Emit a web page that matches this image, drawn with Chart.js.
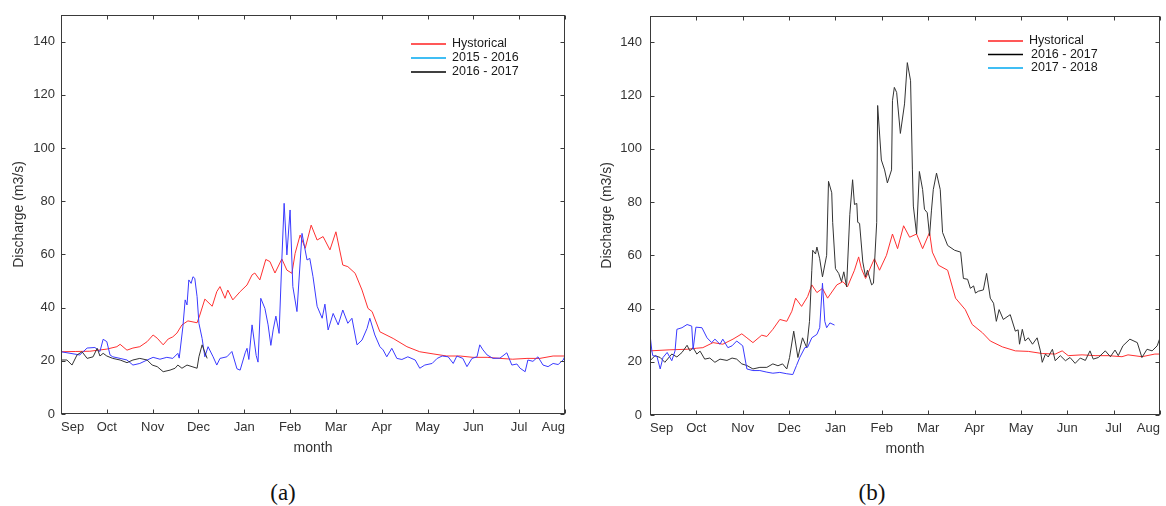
<!DOCTYPE html>
<html>
<head>
<meta charset="utf-8">
<script src="https://cdn.jsdelivr.net/npm/chart.js@4.4.1/dist/chart.umd.min.js"></script>
<style>
  html, body { margin:0; padding:0; background:#fff; }
  #wrap { position:relative; width:1166px; height:506px; overflow:hidden; }
  canvas { position:absolute; top:0; }
  #ca { left:0; }
  #cb { left:583px; }
  .cap { position:absolute; width:100px; text-align:center; font-family:"Liberation Serif", serif; font-size:23px; line-height:26px; color:#111; top:480px; }
</style>
</head>
<body>
<div id="wrap">
  <canvas id="ca" width="583" height="470"></canvas>
  <canvas id="cb" width="583" height="470"></canvas>
  <div class="cap" style="left:233px">(a)</div>
  <div class="cap" style="left:822px">(b)</div>
</div>
<script>
// ---------- tick labels ----------
const months = ['Sep','Oct','Nov','Dec','Jan','Feb','Mar','Apr','May','Jun','Jul','Aug'];
const yTicks = [0,20,40,60,80,100,120,140];

// ---------- legend ----------
const legendA = ['Hystorical','2015 - 2016','2016 - 2017'];
const legendAColors = ['#ff2020','#00a8f0','#000000'];
const legendB = ['Hystorical','2016 - 2017','2017 - 2018'];
const legendBColors = ['#ff2020','#000000','#00a8f0'];

// ---------- chart (a) series : [month position, discharge] ----------
const aHistorical = [
[0.00,23.4],[0.31,23.5],[0.63,23.6],[1.00,24.4],[1.22,25.3],[1.29,26.2],[1.44,24.0],[1.57,24.8],
[1.72,25.3],[1.88,27.2],[2.01,29.7],[2.10,28.5],[2.23,26.0],[2.34,28.2],[2.44,29.0],[2.53,30.4],
[2.64,33.5],[2.77,35.0],[2.97,34.3],[3.03,37.2],[3.14,43.2],[3.30,40.5],[3.40,46.0],[3.47,47.9],
[3.58,43.5],[3.64,46.6],[3.75,42.9],[3.91,46.0],[4.06,48.5],[4.17,52.3],[4.23,53.0],[4.34,50.4],
[4.47,58.1],[4.56,57.3],[4.67,53.0],[4.82,58.3],[4.93,54.1],[5.04,52.9],[5.11,60.4],[5.22,67.3],
[5.33,62.3],[5.46,71.0],[5.59,65.4],[5.72,66.7],[5.87,61.7],[6.00,68.5],[6.15,56.0],[6.26,55.4],
[6.42,52.9],[6.57,46.6],[6.70,39.7],[6.79,38.5],[6.96,30.9],[7.25,28.4],[7.55,25.3],[7.83,23.4],
[8.12,22.6],[8.42,21.8],[8.71,21.8],[8.99,21.3],[9.30,21.3],[9.58,20.9],[9.86,20.6],[10.17,20.9],
[10.45,20.9],[10.74,21.8],[11.00,21.8]
];
const a2015 = [
[0.00,23.4],[0.41,22.2],[0.57,24.8],[0.74,25.0],[0.85,23.5],[0.92,28.1],[1.00,27.2],[1.07,22.2],
[1.13,21.5],[1.29,20.9],[1.44,20.3],[1.57,18.4],[1.72,19.0],[1.88,20.3],[2.01,21.3],[2.16,20.6],
[2.31,21.3],[2.44,20.9],[2.55,22.8],[2.58,21.0],[2.66,32.8],[2.71,42.9],[2.75,41.0],[2.79,50.4],
[2.84,49.1],[2.88,51.6],[2.92,51.0],[2.97,44.1],[3.01,34.1],[3.08,28.4],[3.14,21.5],[3.21,25.3],
[3.32,21.5],[3.40,18.4],[3.47,20.9],[3.62,21.5],[3.73,23.5],[3.84,17.0],[3.91,16.5],[4.02,23.0],
[4.06,24.7],[4.10,20.5],[4.17,33.5],[4.26,22.0],[4.30,19.5],[4.36,43.5],[4.45,39.7],[4.52,33.5],
[4.58,25.8],[4.63,31.6],[4.69,36.8],[4.76,30.3],[4.82,57.9],[4.87,79.2],[4.93,59.8],[5.00,76.7],
[5.06,47.9],[5.15,38.5],[5.26,67.9],[5.37,57.9],[5.43,58.5],[5.50,51.6],[5.59,40.5],[5.70,36.0],
[5.76,41.3],[5.83,31.6],[5.94,37.8],[6.05,33.5],[6.15,39.1],[6.26,34.1],[6.35,36.0],[6.46,26.0],
[6.57,27.8],[6.68,32.2],[6.74,36.0],[6.85,29.7],[6.96,25.3],[7.03,24.1],[7.11,21.5],[7.22,24.7],
[7.33,20.9],[7.44,20.5],[7.57,21.5],[7.73,20.3],[7.83,17.2],[7.94,18.4],[8.10,19.0],[8.21,20.9],
[8.32,21.8],[8.45,21.5],[8.56,19.0],[8.64,21.8],[8.77,20.9],[8.86,17.8],[8.97,20.9],[9.08,21.5],
[9.14,26.0],[9.21,24.1],[9.30,22.2],[9.43,20.9],[9.58,21.0],[9.73,23.0],[9.84,18.4],[9.95,18.8],
[10.02,17.2],[10.13,15.9],[10.19,20.3],[10.30,19.8],[10.41,21.5],[10.52,18.4],[10.63,17.8],
[10.74,19.0],[10.85,18.6],[10.96,20.3],[11.00,21.8]
];
const a2016 = [
[0.00,20.3],[0.13,20.3],[0.24,18.4],[0.35,22.2],[0.46,23.4],[0.57,20.9],[0.70,21.5],[0.79,24.7],
[0.85,21.8],[0.92,22.8],[1.00,21.8],[1.13,20.9],[1.29,20.3],[1.44,19.3],[1.57,20.3],[1.72,20.9],
[1.88,20.3],[1.99,18.4],[2.10,17.8],[2.23,15.9],[2.38,16.5],[2.49,17.2],[2.55,18.4],[2.64,17.2],
[2.75,18.4],[2.86,17.8],[2.97,17.2],[3.01,21.5],[3.08,26.0],[3.12,24.1],[3.19,20.9]
];

// ---------- chart (b) series ----------
const bHistorical = [
[0.00,24.1],[0.43,24.5],[0.80,24.7],[1.01,25.1],[1.14,25.3],[1.36,27.2],[1.57,26.6],[1.79,28.5],
[1.98,30.5],[2.09,29.0],[2.22,27.2],[2.41,30.0],[2.52,29.5],[2.65,32.2],[2.80,35.9],[2.95,35.2],
[3.06,39.0],[3.14,43.9],[3.27,40.8],[3.40,44.5],[3.49,48.9],[3.60,46.0],[3.72,47.6],[3.83,43.9],
[4.03,48.9],[4.16,50.1],[4.26,48.2],[4.41,54.4],[4.50,59.4],[4.56,55.0],[4.65,51.3],[4.84,58.7],
[4.95,54.4],[5.10,60.0],[5.23,68.0],[5.34,62.5],[5.47,71.1],[5.60,66.8],[5.75,68.0],[5.88,62.5],
[6.03,68.6],[6.09,61.2],[6.22,56.3],[6.42,54.4],[6.59,43.9],[6.80,39.6],[6.95,34.0],[7.17,30.9],
[7.34,27.8],[7.60,25.6],[7.88,24.1],[8.16,23.9],[8.46,23.1],[8.74,22.9],[8.89,24.1],[9.02,22.3],
[9.32,22.6],[9.60,22.3],[9.88,22.3],[10.18,21.9],[10.31,22.6],[10.61,21.9],[10.89,22.9],[11.00,22.9]
];
const b2016 = [
[0.00,20.4],[0.11,22.3],[0.22,21.6],[0.32,19.8],[0.47,22.9],[0.58,21.8],[0.69,23.5],[0.80,26.2],
[0.86,24.1],[0.93,25.3],[1.01,22.9],[1.08,24.0],[1.18,21.0],[1.29,21.4],[1.40,19.8],[1.51,21.0],
[1.66,20.5],[1.77,21.4],[1.87,21.0],[1.98,19.2],[2.09,18.6],[2.22,17.3],[2.37,17.9],[2.52,17.9],
[2.65,19.2],[2.76,18.5],[2.86,19.2],[2.95,17.3],[3.01,21.6],[3.10,31.5],[3.19,21.6],[3.29,29.0],
[3.38,25.3],[3.44,35.2],[3.49,54.4],[3.51,61.9],[3.57,60.5],[3.60,63.1],[3.66,58.7],[3.72,51.9],
[3.81,60.0],[3.85,87.8],[3.92,83.5],[3.94,72.4],[4.00,55.0],[4.07,53.2],[4.13,50.1],[4.18,53.8],
[4.24,48.2],[4.31,75.4],[4.37,88.4],[4.41,79.1],[4.46,79.5],[4.48,72.4],[4.52,72.0],[4.59,57.5],
[4.65,51.9],[4.69,54.4],[4.78,48.9],[4.82,49.5],[4.89,72.4],[4.91,116.3],[4.99,95.8],[5.06,92.1],
[5.12,87.2],[5.21,92.1],[5.23,118.1],[5.27,123.1],[5.32,121.2],[5.40,105.8],[5.49,116.9],[5.55,132.4],
[5.62,125.6],[5.66,92.1],[5.68,78.5],[5.75,68.0],[5.81,91.5],[5.88,84.7],[5.92,77.3],[5.98,76.0],
[6.03,67.4],[6.07,76.7],[6.11,84.7],[6.18,90.9],[6.26,84.7],[6.31,68.6],[6.42,63.7],[6.57,61.9],
[6.70,61.2],[6.76,51.3],[6.85,51.0],[6.91,47.6],[6.98,48.5],[7.02,45.8],[7.08,46.5],[7.19,47.0],
[7.26,53.2],[7.34,43.9],[7.41,42.0],[7.47,35.2],[7.53,39.6],[7.62,35.9],[7.77,37.7],[7.88,31.5],
[7.94,32.0],[7.97,26.6],[8.03,32.2],[8.09,27.8],[8.16,29.0],[8.25,26.6],[8.35,29.0],[8.42,24.1],
[8.46,19.8],[8.53,22.9],[8.59,21.8],[8.68,24.7],[8.74,20.4],[8.85,22.3],[8.96,20.4],[9.06,21.6],
[9.17,19.4],[9.28,21.4],[9.39,20.5],[9.49,24.1],[9.56,21.0],[9.67,21.6],[9.82,24.1],[9.93,21.9],
[10.03,24.4],[10.10,22.3],[10.20,26.0],[10.35,28.5],[10.51,27.2],[10.61,21.6],[10.72,24.7],
[10.83,24.1],[10.94,26.0],[11.00,29.0]
];
const b2017 = [
[0.00,30.3],[0.04,24.1],[0.06,22.3],[0.15,22.0],[0.22,17.3],[0.28,21.6],[0.37,23.5],[0.47,20.4],
[0.54,24.1],[0.58,32.2],[0.69,32.8],[0.80,34.0],[0.90,33.4],[0.93,24.7],[0.99,33.0],[1.12,32.8],
[1.23,29.0],[1.33,27.2],[1.40,28.5],[1.51,26.6],[1.57,28.5],[1.68,25.3],[1.77,26.0],[1.87,27.8],
[2.00,26.0],[2.09,17.3],[2.22,16.7],[2.37,16.7],[2.52,16.1],[2.65,15.7],[2.80,16.0],[2.95,15.5],
[3.08,15.2],[3.16,18.6],[3.23,21.6],[3.34,25.3],[3.40,25.5],[3.49,29.0],[3.60,30.3],[3.66,32.8],
[3.72,49.5],[3.77,35.2],[3.81,32.8],[3.88,34.6],[3.98,33.8]
];

const FONT = '"Liberation Sans", Arial, sans-serif';
const toXY = arr => arr.map(p => ({x: p[0], y: p[1]}));

const frameTicks = {
  id: 'frameTicks',
  afterDatasetsDraw(chart) {
    const {ctx, chartArea: a, scales: {x, y}} = chart;
    ctx.save();
    ctx.strokeStyle = '#3a3a3a';
    ctx.lineWidth = 1;
    const L = Math.round(a.left) + 0.5, R = Math.round(a.right) - 0.5;
    const T = Math.round(a.top) + 0.5, B = Math.round(a.bottom) - 0.5;
    ctx.strokeRect(L, T, R - L, B - T);
    ctx.beginPath();
    months.forEach((m, i) => {
      const px = Math.round(x.getPixelForValue(i)) + 0.5;
      ctx.moveTo(px, B); ctx.lineTo(px, B - 4);
      ctx.moveTo(px, T); ctx.lineTo(px, T + 4);
    });
    yTicks.forEach(v => {
      const py = Math.round(y.getPixelForValue(v)) + 0.5;
      ctx.moveTo(L, py); ctx.lineTo(L + 4, py);
      ctx.moveTo(R, py); ctx.lineTo(R - 4, py);
    });
    ctx.stroke();
    ctx.restore();
  }
};

const insideLegend = {
  id: 'insideLegend',
  afterDraw(chart, args, o) {
    const ctx = chart.ctx;
    ctx.save();
    ctx.font = '12.5px ' + FONT;
    ctx.textBaseline = 'middle';
    o.labels.forEach((t, i) => {
      const yy = o.rows[i];
      ctx.strokeStyle = o.colors[i];
      ctx.lineWidth = 1.6;
      ctx.beginPath();
      ctx.moveTo(o.x, yy); ctx.lineTo(o.x + 35, yy);
      ctx.stroke();
      ctx.fillStyle = '#1a1a1a';
      ctx.fillText(t, o.x + 41 + (o.shift ? o.shift[i] : 0), yy);
    });
    ctx.restore();
  }
};

function makeChart(id, datasets, cfg) {
  return new Chart(document.getElementById(id), {
    type: 'line',
    data: { datasets },
    plugins: [frameTicks, insideLegend],
    options: {
      responsive: false,
      animation: false,
      layout: { padding: cfg.padding },
      elements: { point: { radius: 0 }, line: { borderWidth: 1, tension: 0 } },
      plugins: {
        legend: { display: false },
        tooltip: { enabled: false },
        insideLegend: cfg.legend
      },
      scales: {
        x: {
          type: 'linear', min: 0, max: 11,
          afterFit: s => { s.height = cfg.xHeight; },
          afterBuildTicks: s => { s.ticks = months.map((m, i) => ({ value: i })); },
          grid: { display: false, drawTicks: false },
          border: { display: false },
          ticks: {
            autoSkip: false, maxRotation: 0, align: 'inner', padding: 6,
            color: '#333', font: { family: FONT, size: 13 },
            callback: v => months[v]
          },
          title: {
            display: true, text: 'month', color: '#333',
            font: { family: FONT, size: 14 }, padding: { top: 0, bottom: cfg.monthPad }
          }
        },
        y: {
          min: 0, max: 150,
          afterFit: s => { s.width = cfg.yWidth; },
          afterBuildTicks: s => { s.ticks = yTicks.map(v => ({ value: v })); },
          grid: { display: false, drawTicks: false },
          border: { display: false },
          ticks: {
            padding: cfg.yPad, color: '#333', font: { family: FONT, size: 13 }
          },
          title: {
            display: true, text: 'Discharge (m3/s)', color: '#333',
            font: { family: FONT, size: 14 }, padding: { top: cfg.titlePad, bottom: 0 }
          }
        }
      }
    }
  });
}

makeChart('ca', [
  { label: legendA[2], data: toXY(a2016), borderColor: '#333333' },
  { label: legendA[1], data: toXY(a2015), borderColor: '#3a3aff' },
  { label: legendA[0], data: toXY(aHistorical), borderColor: '#ff3030' }
], {
  padding: { left: 0, top: 15, right: 18, bottom: 0 },
  xHeight: 56, yWidth: 61, yPad: 6, titlePad: 11, monthPad: 13,
  legend: { labels: legendA, colors: legendAColors, x: 411, rows: [44, 58, 72] }
});

makeChart('cb', [
  { label: legendB[2], data: toXY(b2017), borderColor: '#3a3aff' },
  { label: legendB[1], data: toXY(b2016), borderColor: '#333333' },
  { label: legendB[0], data: toXY(bHistorical), borderColor: '#ff3030' }
], {
  padding: { left: 0, top: 12, right: 5, bottom: 0 },
  xHeight: 55, yWidth: 67, yPad: 8, titlePad: 16, monthPad: 12,
  legend: { labels: legendB, colors: legendBColors, x: 405, rows: [41, 54.5, 68], shift: [0, 2, 2] }
});
</script>
</body>
</html>
